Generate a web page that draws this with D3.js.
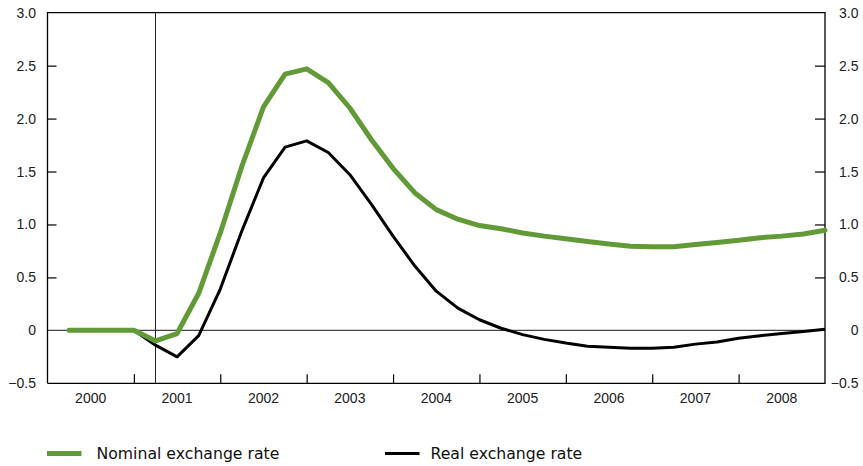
<!DOCTYPE html>
<html>
<head>
<meta charset="utf-8">
<script src="https://cdn.jsdelivr.net/npm/d3@7"></script>
<style>
  html, body { margin: 0; padding: 0; background: #fff; }
  svg { display: block; }
</style>
</head>
<body>
<svg id="chart" width="863" height="466"></svg>
<script>
// ---- data ----
const quarters = [
  "2000Q1","2000Q2","2000Q3","2000Q4",
  "2001Q1","2001Q2","2001Q3","2001Q4",
  "2002Q1","2002Q2","2002Q3","2002Q4",
  "2003Q1","2003Q2","2003Q3","2003Q4",
  "2004Q1","2004Q2","2004Q3","2004Q4",
  "2005Q1","2005Q2","2005Q3","2005Q4",
  "2006Q1","2006Q2","2006Q3","2006Q4",
  "2007Q1","2007Q2","2007Q3","2007Q4",
  "2008Q1","2008Q2","2008Q3","2008Q4"
];
const nominal = [
  0, 0, 0, 0,
  -0.10, -0.03, 0.35, 0.92,
  1.55, 2.11, 2.42, 2.47,
  2.34, 2.10, 1.80, 1.53,
  1.30, 1.14, 1.05, 0.99,
  0.96, 0.92, 0.89, 0.865,
  0.84, 0.815, 0.795, 0.79,
  0.79, 0.81, 0.83, 0.85,
  0.875, 0.89, 0.91, 0.945
];
const real = [
  0, 0, 0, 0,
  -0.14, -0.25, -0.05, 0.39,
  0.94, 1.44, 1.73, 1.79,
  1.68, 1.47, 1.19, 0.89,
  0.61, 0.37, 0.21, 0.10,
  0.02, -0.04, -0.085, -0.12,
  -0.15, -0.16, -0.17, -0.17,
  -0.16, -0.13, -0.11, -0.075,
  -0.05, -0.03, -0.01, 0.01
];
const years = ["2000","2001","2002","2003","2004","2005","2006","2007","2008"];
const yTicks = [-0.5, 0, 0.5, 1.0, 1.5, 2.0, 2.5, 3.0];
const markerQuarter = "2001Q1";
const seriesNames = ["Nominal exchange rate", "Real exchange rate"];
const seriesColors = ["#619a37", "#000000"];

// ---- layout ----
const svg = d3.select("#chart");
const L = 47.5, R = 825, T = 12.7, B = 383.3;
// quarter plotted at its end point in time
const qTime = q => +q.slice(0,4) + (+q.slice(5)) * 0.25;

const x = d3.scaleLinear().domain([+years[0], +years[years.length-1] + 1]).range([L, R]);
const y = d3.scaleLinear().domain([-0.5, 3.0]).range([B, T]);

const fmt = v => v === 0 ? "0" : (v < 0 ? "\u2212" + d3.format(".1f")(-v) : d3.format(".1f")(v));
const tickFont = "'Liberation Sans', Arial, sans-serif";

// zero line
svg.append("line")
  .attr("x1", L).attr("x2", R).attr("y1", y(0)).attr("y2", y(0))
  .attr("stroke", "#444").attr("stroke-width", 1.1);

// vertical marker line
svg.append("line")
  .attr("x1", x(qTime(markerQuarter))).attr("x2", x(qTime(markerQuarter)))
  .attr("y1", T).attr("y2", B)
  .attr("stroke", "#222").attr("stroke-width", 1);

// left axis
const leftAxis = d3.axisLeft(y).tickValues(yTicks).tickSize(-9).tickPadding(11.5).tickFormat(fmt);
const gL = svg.append("g").attr("transform", `translate(${L},0)`).call(leftAxis);
// right axis (labels right-aligned)
const rightAxis = d3.axisRight(y).tickValues(yTicks).tickSize(-10).tickPadding(33.5).tickFormat(fmt);
const gR = svg.append("g").attr("transform", `translate(${R},0)`).call(rightAxis);
gR.selectAll(".tick text").attr("text-anchor", "end");
// bottom axis: ticks at year boundaries, labels at mid-year
const bTicks = d3.range(+years[0] + 1, +years[years.length-1] + 1);
const bottomAxis = d3.axisBottom(x).tickValues(bTicks).tickSize(-9).tickFormat("");
const gB = svg.append("g").attr("transform", `translate(0,${B})`).call(bottomAxis);

[gL, gR, gB].forEach(g => {
  g.select(".domain").remove();
  g.selectAll(".tick line").attr("stroke", "#000").attr("stroke-width", 1.2);
  g.selectAll(".tick text").attr("fill", "#222").attr("font-size", 14).attr("font-family", tickFont);
});
// hide ticks at extremes / zero on vertical axes (frame/zero line there)
[gL, gR].forEach(g => g.selectAll(".tick line").filter(d => d === 0 || d === 3.0 || d === -0.5).remove());

// year labels
svg.append("g").selectAll("text").data(years).join("text")
  .attr("x", d => x(+d + 0.5))
  .attr("y", B + 20)
  .attr("text-anchor", "middle")
  .attr("font-family", tickFont).attr("font-size", 14).attr("fill", "#222")
  .text(d => d);

// frame
svg.append("path")
  .attr("d", `M${L},${B}V${T}H${R}V${B}H${L}`)
  .attr("fill", "none").attr("stroke", "#000").attr("stroke-width", 1.3);

// lines
const lineGen = d3.line().x((d, i) => x(qTime(quarters[i]))).y(d => y(d));
svg.append("path").datum(real)
  .attr("d", lineGen).attr("fill", "none")
  .attr("stroke", seriesColors[1]).attr("stroke-width", 3)
  .attr("stroke-linejoin", "round");
svg.append("path").datum(nominal)
  .attr("d", lineGen).attr("fill", "none")
  .attr("stroke", seriesColors[0]).attr("stroke-width", 5)
  .attr("stroke-linejoin", "round").attr("stroke-linecap", "round");

// legend
const legFont = "'DejaVu Sans', sans-serif";
const legend = [
  {name: seriesNames[0], color: seriesColors[0], w: 5, x0: 47, x1: 81.5, tx: 96.5},
  {name: seriesNames[1], color: seriesColors[1], w: 3, x0: 385, x1: 419.5, tx: 430.5}
];
const lg = svg.append("g").selectAll("g").data(legend).join("g");
lg.append("line")
  .attr("x1", d => d.x0).attr("x2", d => d.x1)
  .attr("y1", 453.5).attr("y2", 453.5)
  .attr("stroke", d => d.color).attr("stroke-width", d => d.w);
lg.append("text")
  .attr("x", d => d.tx).attr("y", 459.2)
  .attr("font-family", legFont).attr("font-size", 15.7).attr("fill", "#111")
  .text(d => d.name);
</script>
</body>
</html>
